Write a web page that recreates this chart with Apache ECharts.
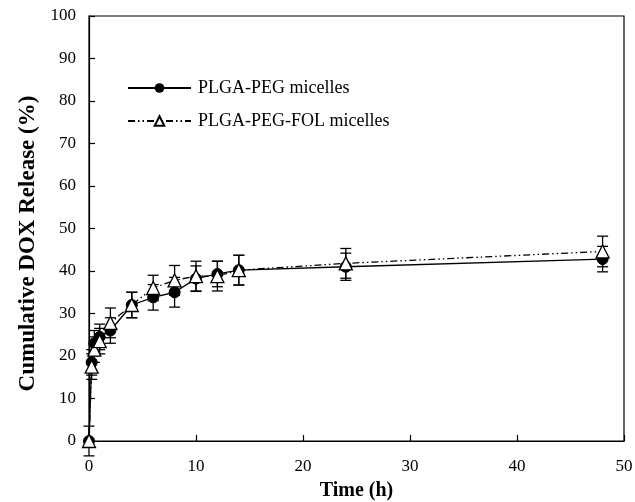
<!DOCTYPE html>
<html><head><meta charset="utf-8">
<script src="https://cdn.jsdelivr.net/npm/echarts@6/dist/echarts.min.js"></script>
<style>html,body{margin:0;padding:0;background:#fff}#c{width:635px;height:502px}</style>
</head><body><div id="c"></div>
<script>
const times = [0, 0.25, 0.5, 1, 2, 4, 6, 8, 10, 12, 14, 24, 48];
const pegValues = [0, 18.5, 23, 24.5, 26, 32, 33.8, 35, 38.2, 39.3, 40.2, 41, 42.8];
const pegErrors = [3.5, 3, 3, 3, 3, 3, 3, 3.5, 3, 3, 3.5, 3.2, 3];
const folValues = [0, 17.5, 21.5, 23.5, 27.8, 32, 36, 37.8, 38.8, 38.8, 40.2, 41.8, 44.6];
const folErrors = [0, 3, 3, 3, 3.5, 3, 3, 3.5, 3.5, 3.5, 3.5, 3.5, 3.6];
const seriesNames = ['PLGA-PEG micelles', 'PLGA-PEG-FOL micelles'];
const xTicks = [0, 10, 20, 30, 40, 50];
const yTicks = [0, 10, 20, 30, 40, 50, 60, 70, 80, 90, 100];

const font = 'Liberation Serif';
function pairs(v){ return times.map((t,i)=>[t, v[i]]); }
function errData(v,e){ return times.map((t,i)=>[t, v[i]-e[i], v[i]+e[i]]); }
function errRender(params, api){
  const x = api.value(0);
  const lo = api.coord([x, api.value(1)]);
  const hi = api.coord([x, api.value(2)]);
  const w = 5.5;
  const st = {stroke:'#000', lineWidth:1.3};
  return {type:'group', children:[
    {type:'line', shape:{x1:lo[0],y1:lo[1],x2:hi[0],y2:hi[1]}, style:st},
    {type:'line', shape:{x1:lo[0]-w,y1:lo[1],x2:lo[0]+w,y2:lo[1]}, style:st},
    {type:'line', shape:{x1:hi[0]-w,y1:hi[1],x2:hi[0]+w,y2:hi[1]}, style:st}
  ]};
}
const chart = echarts.init(document.getElementById('c'), null, {renderer:'canvas'});
chart.setOption({
  animation:false,
  backgroundColor:'#fff',
  grid:{left:89, right:11, top:16, bottom:61, containLabel:false, outerBoundsMode:'none',
    show:true, borderColor:'#000', borderWidth:1.2, backgroundColor:'transparent'},
  legend:{
    orient:'vertical', left:122, top:74, itemWidth:63, itemHeight:12, itemGap:15,
    data:seriesNames,
    textStyle:{fontFamily:font, fontSize:18, color:'#000', padding:[0,0,0,2]}
  },
  xAxis:{
    type:'value', min:0, max:50, interval:10,
    name:'Time (h)', nameLocation:'middle', nameGap:40,
    nameTextStyle:{fontFamily:font, fontSize:20, fontWeight:'bold', color:'#000'},
    axisLine:{lineStyle:{color:'#000', width:1.2}},
    axisTick:{inside:true, length:6, lineStyle:{color:'#000', width:1.2}},
    axisLabel:{fontFamily:font, fontSize:17, color:'#000', margin:17,
      formatter:v=>xTicks.includes(v)?String(v):''},
    splitLine:{show:false}
  },
  yAxis:{
    type:'value', min:0, max:100, interval:10,
    name:'Cumulative DOX Release (%)', nameLocation:'middle', nameGap:49,
    nameTextStyle:{fontFamily:font, fontSize:23, fontWeight:'bold', color:'#000', padding:[0,30,0,0]},
    axisLine:{lineStyle:{color:'#000', width:1.2}},
    axisTick:{inside:true, length:6, lineStyle:{color:'#000', width:1.2}},
    axisLabel:{fontFamily:font, fontSize:17, color:'#000', margin:13,
      formatter:v=>yTicks.includes(v)?String(v):''},
    splitLine:{show:false}
  },
  series:[
    {type:'custom', name:'errPeg', renderItem:errRender, data:errData(pegValues,pegErrors), z:1, silent:true},
    {type:'custom', name:'errFol', renderItem:errRender, data:errData(folValues,folErrors), z:1, silent:true},
    {type:'line', name:seriesNames[0], data:pairs(pegValues), symbol:'circle', symbolSize:11,
      itemStyle:{color:'#000', borderColor:'#000'}, lineStyle:{color:'#000', width:1.3, type:'solid'}, z:3},
    {type:'line', name:seriesNames[1], data:pairs(folValues), symbol:'triangle', symbolSize:13,
      itemStyle:{color:'#fff', borderColor:'#000', borderWidth:1.3}, lineStyle:{color:'#000', width:1.3, type:[7,3,1.5,3,1.5,3]}, z:4}
  ]
});
</script></body></html>
